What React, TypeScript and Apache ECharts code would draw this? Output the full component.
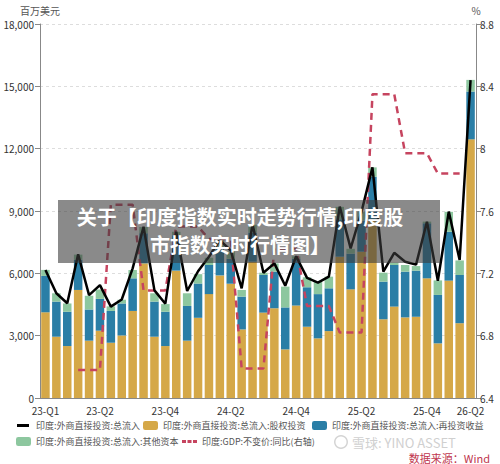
import React, { useEffect, useRef } from 'react';
import * as echarts from 'echarts';

// Monthly observations, Jan 2023 – Apr 2026
const months = [
  '2023-01', '2023-02', '2023-03', '2023-04', '2023-05', '2023-06', '2023-07', '2023-08', '2023-09', '2023-10',
  '2023-11', '2023-12', '2024-01', '2024-02', '2024-03', '2024-04', '2024-05', '2024-06', '2024-07', '2024-08',
  '2024-09', '2024-10', '2024-11', '2024-12', '2025-01', '2025-02', '2025-03', '2025-04', '2025-05', '2025-06',
  '2025-07', '2025-08', '2025-09', '2025-10', '2025-11', '2025-12', '2026-01', '2026-02', '2026-03', '2026-04',
];

// FDI gross inflow components, USD mn
const equity = [
  4125, 2950, 2500, 5200, 2760, 3240, 2660, 3010, 4190, 6480,
  2950, 2500, 6130, 2760, 3860, 5000, 5900, 5500, 3300, 6560,
  4110, 4320, 2340, 4450, 3430, 2870, 3220, 6800, 5230, 7040,
  8550, 3790, 4400, 3880, 3910, 5760, 2630, 5650, 3600, 12450,
];
const reinvested = [
  1750, 1690, 1650, 1450, 1500, 1530, 1530, 1540, 1570, 1450,
  1690, 1650, 1700, 1670, 1650, 1400, 1300, 1200, 1580, 1400,
  1810, 1760, 2020, 2250, 1900, 2130, 2060, 1800, 1720, 1500,
  2100, 1810, 2000, 2200, 2220, 2650, 2330, 2350, 2320, 2300,
];
const otherCapital = [
  290, 400, 400, 250, 660, 450, 220, 180, 400, 300,
  400, 370, 170, 610, 450, 350, 400, 350, 320, 380,
  110, 400, 1000, 120, 480, 600, 560, 600, 230, 430,
  450, 430, 110, 320, 220, 80, 700, 960, 700, 560,
];
const totalInflow = [
  6160, 5040, 4560, 6920, 4950, 5430, 4400, 4740, 6240, 8240,
  5180, 4540, 8000, 5150, 6100, 6800, 7600, 7100, 5280, 8350,
  6030, 6480, 5400, 6820, 5780, 5550, 5840, 9210, 7200, 8970,
  11100, 6080, 6990, 6560, 6420, 8480, 5640, 8970, 6640, 15300,
];

// Real GDP, % y/y (quarterly value repeated over its months)
const gdpYoY = [
  null, null, null, 6.58, 6.58, 6.58, 7.64, 7.64, 7.64, 7.09,
  7.09, 7.09, 7.5, 7.5, 7.5, 7.42, 7.42, 7.42, 6.59, 6.59,
  6.59, 7.36, 7.36, 7.36, 6.99, 6.99, 6.99, 6.82, 6.82, 6.82,
  8.35, 8.35, 8.35, 7.97, 7.97, 7.97, 7.84, 7.84, 7.84, null,
];

// Category-axis labels and tick positions
const xLabelMarks: [number, string][] = [
  [0, '23-Q1'], [5, '23-Q2'], [11, '23-Q4'], [17, '24-Q2'],
  [23, '24-Q4'], [29, '25-Q2'], [35, '25-Q4'], [39, '26-Q2'],
];
const xTickMarks = [0, 2, 5, 8, 11, 14, 17, 20, 23, 26, 29, 32, 35, 38, 39];

const S_TOTAL = '印度:外商直接投资:总流入';
const S_EQUITY = '印度:外商直接投资:总流入:股权投资';
const S_REINV = '印度:外商直接投资:总流入:再投资收益';
const S_OTHER = '印度:外商直接投资:总流入:其他资本';
const S_GDP = '印度:GDP:不变价:同比(右轴)';

const FONT = '"Noto Sans CJK SC", "Noto Sans", sans-serif';
const C_GOLD = '#D5A848';
const C_BLUE = '#2A7EA6';
const C_GREEN = '#8DC79F';
const C_RED = '#C6445F';

const lineIcon = 'path://M0,0L0,0M1,3L13,3L13,6L1,6ZM15,9L15,9';
const dashIcon = 'path://M0,0L0,0M0,3L4,3L4,6L0,6ZM5.5,3L9.5,3L9.5,6L5.5,6ZM11,3L15,3L15,6L11,6ZM15,9L15,9';

// Legend entries: one legend block per item so each sits at its own spot
const legendItems: { name: string; icon: string; left: number; top: number }[] = [
  { name: S_TOTAL, icon: lineIcon, left: 16, top: 421 },
  { name: S_EQUITY, icon: 'roundRect', left: 143, top: 421 },
  { name: S_REINV, icon: 'roundRect', left: 312, top: 421 },
  { name: S_OTHER, icon: 'roundRect', left: 16, top: 437 },
  { name: S_GDP, icon: dashIcon, left: 182, top: 437 },
];

export default function App() {
  const ref = useRef<HTMLDivElement>(null);

  useEffect(() => {
    if (!ref.current) return;
    const chart = echarts.init(ref.current, null, { renderer: 'svg' });
    const labelMap = new Map(xLabelMarks);

    chart.setOption({
      animation: false,
      backgroundColor: '#fff',
      textStyle: { fontFamily: FONT },
      grid: { left: 40, right: 24, top: 24, bottom: 66, containLabel: false },
      legend: legendItems.map((it) => ({
        left: it.left,
        top: it.top,
        itemWidth: 15,
        itemHeight: 9,
        itemGap: 0,
        padding: 0,
        selectedMode: false,
        textStyle: { fontSize: 9, color: '#555', fontFamily: FONT },
        data: [{ name: it.name, icon: it.icon }],
      })),
      xAxis: {
        type: 'category',
        data: months,
        boundaryGap: true,
        axisLine: { lineStyle: { color: '#888' } },
        axisTick: {
          alignWithLabel: true,
          length: 5,
          interval: (i: number) => xTickMarks.includes(i),
          lineStyle: { color: '#888' },
        },
        axisLabel: {
          interval: (i: number) => labelMap.has(i),
          formatter: (_v: string, i: number) => labelMap.get(i) ?? '',
          fontSize: 10,
          color: '#333',
          margin: 7,
        },
      },
      yAxis: [
        {
          type: 'value',
          min: 0,
          max: 18000,
          interval: 3000,
          name: '百万美元',
          nameGap: 9,
          nameTextStyle: { fontSize: 10, color: '#555' },
          axisLine: { show: true, lineStyle: { color: '#888' } },
          axisTick: { show: true, length: 5, lineStyle: { color: '#888' } },
          axisLabel: {
            fontSize: 10,
            color: '#333',
            margin: 6,
            formatter: (v: number) => v.toLocaleString('en-US'),
          },
          splitLine: { lineStyle: { color: '#ddd', type: [3, 3] } },
        },
        {
          type: 'value',
          min: 6.4,
          max: 8.8,
          interval: 0.4,
          name: '%',
          nameGap: 9,
          nameTextStyle: { fontSize: 10, color: '#555' },
          axisLine: { show: true, lineStyle: { color: '#888' } },
          axisTick: { show: true, length: 5, lineStyle: { color: '#888' } },
          axisLabel: {
            fontSize: 10,
            color: '#333',
            margin: 4,
            formatter: (v: number) => String(Math.round(v * 10) / 10),
          },
          splitLine: { show: false },
        },
      ],
      series: [
        {
          name: S_EQUITY,
          type: 'bar',
          stack: 'fdi',
          data: equity,
          barWidth: '78%',
          itemStyle: { color: C_GOLD },
        },
        {
          name: S_REINV,
          type: 'bar',
          stack: 'fdi',
          data: reinvested,
          barWidth: '78%',
          itemStyle: { color: C_BLUE },
        },
        {
          name: S_OTHER,
          type: 'bar',
          stack: 'fdi',
          data: otherCapital,
          barWidth: '78%',
          itemStyle: { color: C_GREEN },
        },
        {
          name: S_TOTAL,
          type: 'line',
          data: totalInflow,
          symbol: 'none',
          z: 5,
          itemStyle: { color: '#000' },
          lineStyle: { color: '#000', width: 2.5 },
        },
        {
          name: S_GDP,
          type: 'line',
          yAxisIndex: 1,
          data: gdpYoY,
          symbol: 'none',
          z: 4,
          itemStyle: { color: C_RED },
          lineStyle: { color: C_RED, width: 2.5, type: [7, 5] },
        },
      ],
      graphic: [
        // Headline banner laid over the plot
        {
          type: 'rect',
          z: 100,
          zlevel: 1,
          shape: { x: 58, y: 200, width: 382, height: 63 },
          style: { fill: 'rgba(60,60,60,0.6)' },
        },
        {
          type: 'text',
          z: 101,
          zlevel: 1,
          x: 240,
          y: 216,
          style: {
            text: '关于【印度指数实时走势行情,印度股',
            fill: '#fff',
            font: `bold 20px ${FONT}`,
            align: 'center',
            verticalAlign: 'middle',
          },
        },
        {
          type: 'text',
          z: 101,
          zlevel: 1,
          x: 240,
          y: 244,
          style: {
            text: '市指数实时行情图】',
            fill: '#fff',
            font: `bold 20px ${FONT}`,
            align: 'center',
            verticalAlign: 'middle',
          },
        },
        // Watermark and source note
        {
          type: 'ring',
          shape: { cx: 341, cy: 442, r: 7, r0: 5.5 },
          style: { fill: '#d4d4d4' },
        },
        {
          type: 'text',
          x: 352,
          y: 442,
          style: {
            text: '雪球: YINO ASSET',
            fill: '#d0d0d0',
            font: `13px ${FONT}`,
            verticalAlign: 'middle',
          },
        },
        {
          type: 'text',
          x: 490,
          y: 457.5,
          style: {
            text: '数据来源：Wind',
            fill: '#C0364E',
            font: `11px ${FONT}`,
            align: 'right',
            verticalAlign: 'middle',
          },
        },
      ],
    });

    return () => chart.dispose();
  }, []);

  return (
    <div
      ref={ref}
      style={{ position: 'fixed', left: 0, top: 0, width: 500, height: 464 }}
    />
  );
}
